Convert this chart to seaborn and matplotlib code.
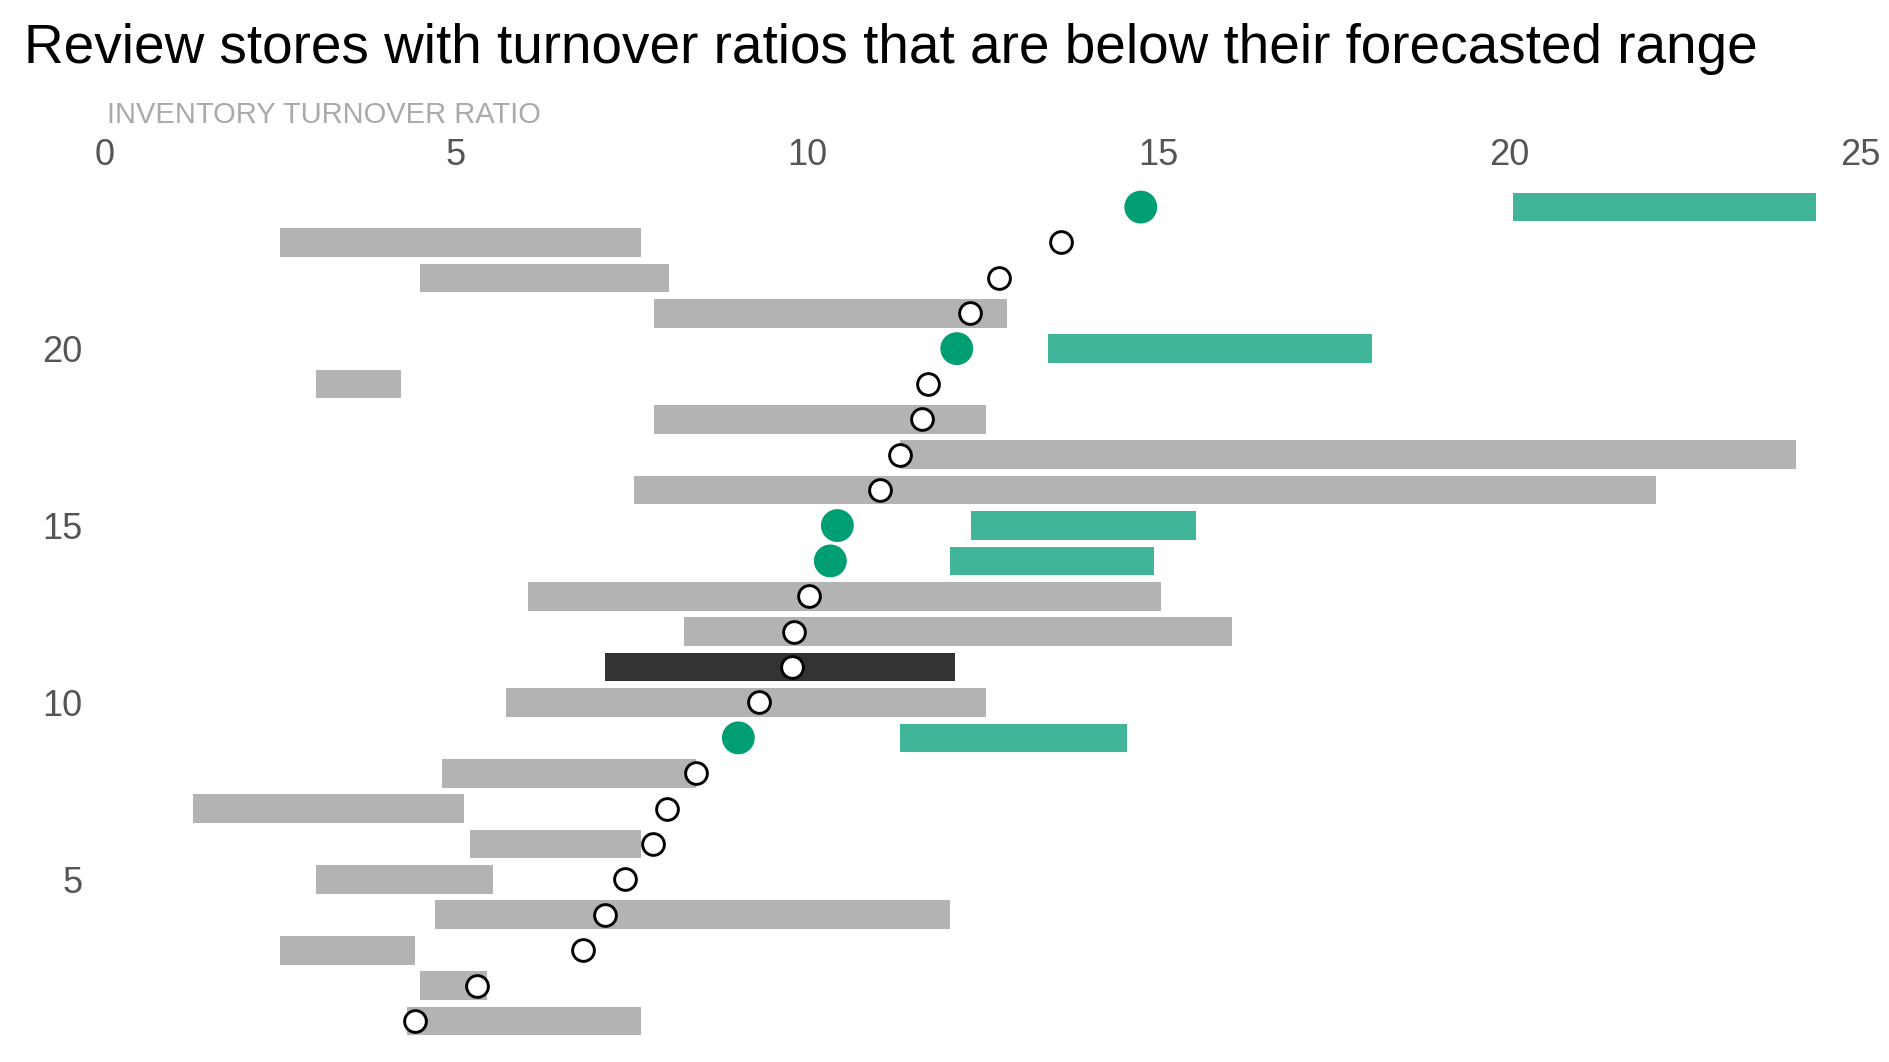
import matplotlib
matplotlib.use("Agg")
import matplotlib.pyplot as plt
import seaborn as sns
import pandas as pd
import numpy as np

# ---- data ----
stores = list(range(1, 25))
range_low = [4.30, 4.49, 2.50, 4.70, 3.00, 5.20, 1.25, 4.80, 11.32, 5.71, 7.12, 8.25,
             6.02, 12.04, 12.33, 7.53, 11.32, 7.82, 3.00, 13.43, 7.82, 4.49, 2.50, 20.05]
range_high = [7.63, 5.44, 4.41, 12.04, 5.52, 7.63, 5.11, 8.42, 14.55, 12.54, 12.11, 16.05,
              15.04, 14.94, 15.54, 22.08, 24.08, 12.54, 4.22, 18.04, 12.85, 8.03, 7.63, 24.37]
actual = [4.41, 5.30, 6.81, 7.12, 7.41, 7.80, 8.01, 8.42, 9.02, 9.31, 9.79, 9.81,
          10.02, 10.33, 10.43, 11.03, 11.32, 11.63, 11.72, 12.13, 12.32, 12.73, 13.62, 14.75]
selected_store = 11
x_ticks = [0, 5, 10, 15, 20, 25]
y_ticks = [5, 10, 15, 20]
title = "Review stores with turnover ratios that are below their forecasted range"
x_label = "INVENTORY TURNOVER RATIO"

df = pd.DataFrame({"store": stores, "low": range_low, "high": range_high, "actual": actual})
df["below"] = df["actual"] < df["low"]

GRAY = "#b3b3b3"
GREEN_BAR = "#41b597"
GREEN_PT = "#009e73"
DARK = "#333333"

sns.set_theme(style="white")
plt.rcParams["font.family"] = ["Liberation Sans", "DejaVu Sans"]

fig = plt.figure(figsize=(18.89, 10.62), dpi=100)
ax = fig.add_axes([0.0555, 0.022, 0.9295, 0.803])

bar_colors = []
for _, r in df.iterrows():
    if r["store"] == selected_store:
        bar_colors.append(DARK)
    elif r["below"]:
        bar_colors.append(GREEN_BAR)
    else:
        bar_colors.append(GRAY)

ax.barh(df["store"], df["high"] - df["low"], left=df["low"], height=0.81,
        color=bar_colors, linewidth=0, zorder=1)

ok = df[~df["below"]]
bad = df[df["below"]]
sns.scatterplot(data=ok, x="actual", y="store", ax=ax, s=245, color="white",
                edgecolor="black", linewidth=2.1, zorder=3, legend=False)
sns.scatterplot(data=bad, x="actual", y="store", ax=ax, s=560, color=GREEN_PT,
                edgecolor="none", linewidth=0, zorder=3, legend=False)

ax.set_xlim(0, 25)
ax.set_ylim(0.5, 24.6)
ax.set_xticks(x_ticks)
ax.set_yticks(y_ticks)
ax.xaxis.tick_top()
ax.tick_params(axis="both", length=0, labelsize=26, labelcolor="#555555")
ax.tick_params(axis="x", pad=9)
ax.tick_params(axis="y", pad=16)
for s in ax.spines.values():
    s.set_visible(False)
ax.grid(False)
ax.set_xlabel("")
ax.set_ylabel("")

fig.text(0.0127, 0.941, title, fontsize=39.5, color="black", ha="left", va="baseline")
fig.text(0.0565, 0.884, x_label, fontsize=21, color="#aaaaaa", ha="left", va="baseline")

fig.savefig("out.png", dpi=100, facecolor="white")
